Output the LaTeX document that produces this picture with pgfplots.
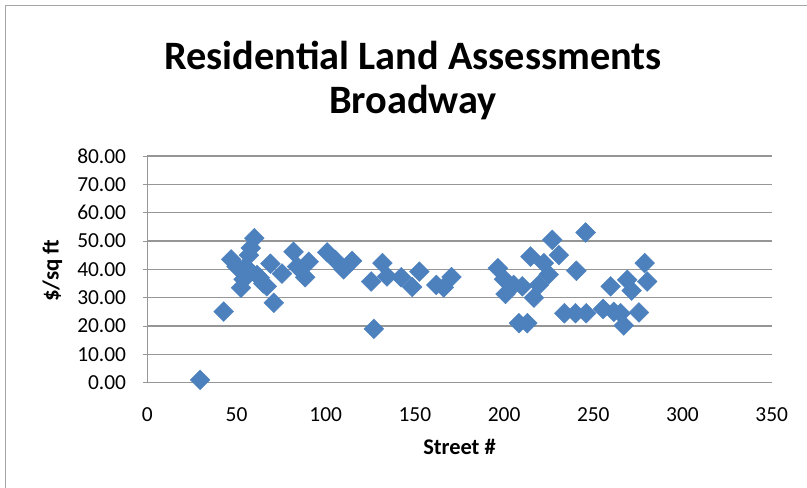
\documentclass[border=0pt]{standalone}
\usepackage{fontspec}
\setmainfont{Carlito}
\usepackage{pgfplots}
\pgfplotsset{compat=1.18}
\definecolor{ptc}{RGB}{76,129,190}
\definecolor{gridc}{RGB}{150,150,150}
\begin{document}
\begin{tikzpicture}[x=1bp,y=1bp]
\useasboundingbox (0,0) rectangle (807,488);
\fill[white] (0,0) rectangle (807,488);
\draw[gray!70, line width=1.2bp] (5.5,-5) -- (5.5,482.5) -- (820,482.5);
\begin{axis}[
  at={(147.3bp,105.3bp)}, anchor=south west,
  scale only axis, width=624.4bp, height=226.7bp,
  xmin=0, xmax=350, ymin=0, ymax=80,
  xtick={0,50,...,350}, ytick={0,10,...,80},
  axis line style={draw=none},
  ymajorgrids, grid style={gridc, line width=1.1bp},
  tick align=outside, major tick length=4bp,
  ytick pos=left, xtick pos=bottom,
  major x tick style={draw=none},
  major y tick style={gridc, line width=1bp},
  /pgf/number format/assume math mode=true,
  ticklabel style={font=\fontsize{21.5}{24}\selectfont},
  yticklabel style={/pgf/number format/.cd, fixed, zerofill, precision=2, /tikz/.cd, anchor=east, inner sep=0pt, xshift=-17bp},
  xticklabel style={anchor=north, inner sep=0pt, yshift=-21bp},
  xlabel={Street \#},
  xlabel style={font=\bfseries\fontsize{22.5}{24}\selectfont, at={(axis description cs:0.5,-0.3176)}, anchor=base},
  ylabel={\$/sq ft},
  ylabel style={font=\bfseries\fontsize{23}{24}\selectfont, at={(axis description cs:-0.142,0.494)}, anchor=base},
  clip=false,
]
\draw[gridc, line width=1.1bp] (axis cs:0,0) -- (axis cs:0,80);
\addplot[only marks, mark=square*, mark size=7bp,
  mark options={rotate=45, fill=ptc, draw=ptc}] table {
x y
29.6 1.0
42.8 25.1
47 43.5
50 41
52.5 33.5
54 36.5
55 41
57 45
58 47.5
60 51
61.5 38
63 37
65 35
67 34
69 42
70.9 28.2
75.5 38.5
82 46.2
84 41
88.5 37.2
90.5 42.7
100.8 46
105.4 43.3
110 40
114.8 43
125.5 35.7
127 19
131.8 42.2
134.4 37.5
142.3 37.2
148.5 33.8
152.5 39.2
162 34.5
166.2 33.6
170.5 37.3
196.5 40.4
200 36.5
200.8 31.3
205.4 34.5
210.2 34
208.3 21
213 21
214.8 44.5
216.7 30
219.5 34.5
222.3 42.2
225 38.2
227 50.4
230.7 45
233.8 24.5
240.5 39.5
240 24.5
245.7 53
246 24.5
255.5 26
259.7 34
261.5 25
265.3 24.5
267.1 20.2
269 36.3
271.5 32.5
275.6 24.8
278.8 42.2
280.2 35.7
};
\end{axis}
\node[anchor=base, font=\bfseries\fontsize{40.5}{44}\selectfont] at (413,418) {Residential Land Assessments};
\node[anchor=base, font=\bfseries\fontsize{40.5}{44}\selectfont] at (413,374) {Broadway};
\end{tikzpicture}
\end{document}
